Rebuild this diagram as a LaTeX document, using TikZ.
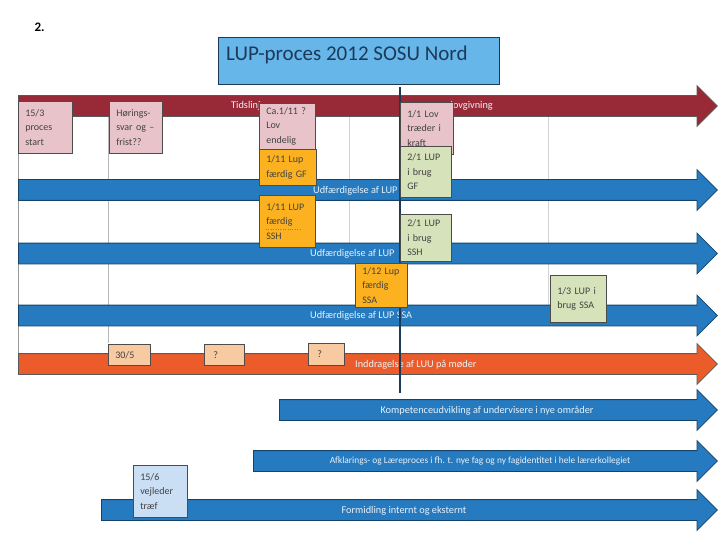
\documentclass[tikz,border=0pt]{standalone}
\usepackage{fontspec}
\setmainfont{Carlito}
\usetikzlibrary{shapes.arrows, calc}

\definecolor{lovpink}{RGB}{232,196,202}
\definecolor{luporange}{RGB}{252,178,32}
\definecolor{bruggreen}{RGB}{214,226,186}
\definecolor{luupeach}{RGB}{248,202,162}
\definecolor{vejblue}{RGB}{202,222,244}
\definecolor{barred}{RGB}{152,42,56}
\definecolor{barblue}{RGB}{38,122,192}
\definecolor{barorange}{RGB}{236,92,42}
\definecolor{titleblue}{RGB}{102,182,234}
\definecolor{navy}{RGB}{28,58,88}
\definecolor{boxtext}{RGB}{66,66,66}

\tikzset{
  bar/.style={single arrow, single arrow head extend=10pt, single arrow tip angle=90,
    inner xsep=0pt, inner ysep=10pt, anchor=tail, line width=0.8pt},
  redbar/.style={bar, fill=barred, draw=black!65},
  bluebar/.style={bar, fill=barblue, draw=barblue!55!black},
  orangebar/.style={bar, fill=barorange, draw=black!65},
  barlabel/.style={text=white!90!barblue, font=\fontsize{10.3}{12}\selectfont, inner sep=0pt},
  event/.style={draw=black!70, line width=0.6pt, anchor=north west, align=left,
    inner xsep=7pt, inner ysep=0pt, text=boxtext, font=\fontsize{10}{14.5}\selectfont},
  lovbox/.style={event, fill=lovpink},
  lupbox/.style={event, fill=luporange},
  brugbox/.style={event, fill=bruggreen},
  luubox/.style={event, fill=luupeach},
  vejbox/.style={event, fill=vejblue},
  gridline/.style={draw=gray!55, line width=0.6pt},
  titlebox/.style={draw=navy, line width=0.8pt, fill=titleblue, anchor=north west}
}

\begin{document}
\begin{tikzpicture}[x=1pt, y=-1pt]
    \useasboundingbox (0,0) rectangle (720,540);

    \node[font=\bfseries\fontsize{13}{15}\selectfont, anchor=west] (nr) at (31,27) {2.};

    % lodrette hjaelpelinjer
    \draw[gridline, draw=gray!80] (18,96) -- (18,355);
    \draw[gridline] (108,116) -- (108,343);
    \draw[gridline, draw=gray!35] (349,116) -- (349,245);
    \draw[gridline, draw=gray!35] (548,116) -- (548,306);

    % tidslinjer
    \node[redbar, minimum height=699pt] (tidslinje) at (18,106) {};
    \node[bluebar, minimum height=699pt] (udf1) at (18,190) {};
    \node[bluebar, minimum height=699pt] (udf2) at (18,253.5) {};
    \node[bluebar, minimum height=699pt] (udf3) at (18,315.5) {};
    \node[orangebar, minimum height=699pt] (luu) at (18,364) {};
    \node[bluebar, minimum height=438pt] (komp) at (279,410) {};
    \node[bluebar, minimum height=464pt] (afkl) at (253,461) {};
    \node[bluebar, minimum height=616pt] (form) at (101,510) {};

    \node[barlabel, anchor=west] (tidslabel) at (231,106) {Tidslinje};
    \node[barlabel, anchor=east] (lovlabel) at (493,106) {lovgivning};
    \node[barlabel, anchor=west] (udf1label) at (313,191) {Udfærdigelse af LUP};
    \node[barlabel, anchor=west] (udf2label) at (310,254) {Udfærdigelse af LUP};
    \node[barlabel, anchor=west] (udf3label) at (310,316) {Udfærdigelse af LUP SSA};
    \node[barlabel, anchor=west] (luulabel) at (355,365) {Inddragelse af LUU på møder};
    \node[barlabel] (komplabel) at (487,411) {Kompetenceudvikling af undervisere i nye områder};
    \node[barlabel, font=\fontsize{9.4}{11}\selectfont] (afkllabel) at (480,461) {Afklarings- og Læreproces i fh. t. nye fag og ny fagidentitet i hele lærerkollegiet};
    \node[barlabel] (formlabel) at (404,511) {Formidling internt og eksternt};

    \draw[navy, line width=1.4pt] (400,87) -- (400,393);

    % begivenheder
    \node[lovbox, text width=40pt, minimum height=52pt] (start) at (18,101) {15/3\\proces\\start};
    \node[lovbox, text width=39pt, minimum height=52pt] (hoering) at (109,101) {Hørings-\\svar og –\\frist??};
    \node[lovbox, text width=42pt, minimum height=46pt] (lovend) at (259,103) {Ca.1/11 ?\\Lov\\endelig};
    \node[lupbox, text width=43pt, minimum height=36pt] (lupgf) at (259,149) {1/11 Lup\\færdig GF};
    \node[lupbox, text width=42pt, minimum height=52pt] (lupssh) at (259,195) {1/11 LUP\\færdig\\SSH};
    \draw[dotted, gray] ($(lupssh.south west)+(7,-18)$) -- ++(36,0);
    \node[lovbox, text width=39pt, minimum height=52pt] (lovkraft) at (400,102) {1/1 Lov\\træder i\\kraft};
    \node[brugbox, text width=37pt, minimum height=51pt] (bruggf) at (400,146) {2/1 LUP\\i brug\\GF};
    \node[brugbox, text width=37pt, minimum height=47pt] (brugssh) at (400,214) {2/1 LUP\\i brug\\SSH};
    \node[lupbox, text width=38pt, minimum height=44pt] (lupssa) at (355,263) {1/12 Lup\\færdig\\SSA};
    \node[brugbox, text width=42pt, minimum height=47pt] (brugssa) at (550,275) {1/3 LUP i\\brug SSA};
    \node[luubox, text width=28pt, minimum height=21pt] (luu1) at (108,344) {30/5};
    \node[luubox, text width=26pt, minimum height=21pt] (luu2) at (204,344) {\hspace*{2pt}?};
    \node[luubox, text width=22pt, minimum height=22pt] (luu3) at (308,343) {\hspace*{2pt}?};
    \node[vejbox, text width=40pt, minimum height=52pt] (vejleder) at (133,465) {15/6\\vejleder\\træf};

    % overskrift
    \node[titlebox, minimum width=281pt, minimum height=47pt] (title) at (218,37) {};
    \node[anchor=west, text=navy, font=\fontsize{21}{23}\selectfont, inner sep=0pt] (titletext) at (226,55) {LUP-proces 2012 SOSU Nord};
\end{tikzpicture}
\end{document}
